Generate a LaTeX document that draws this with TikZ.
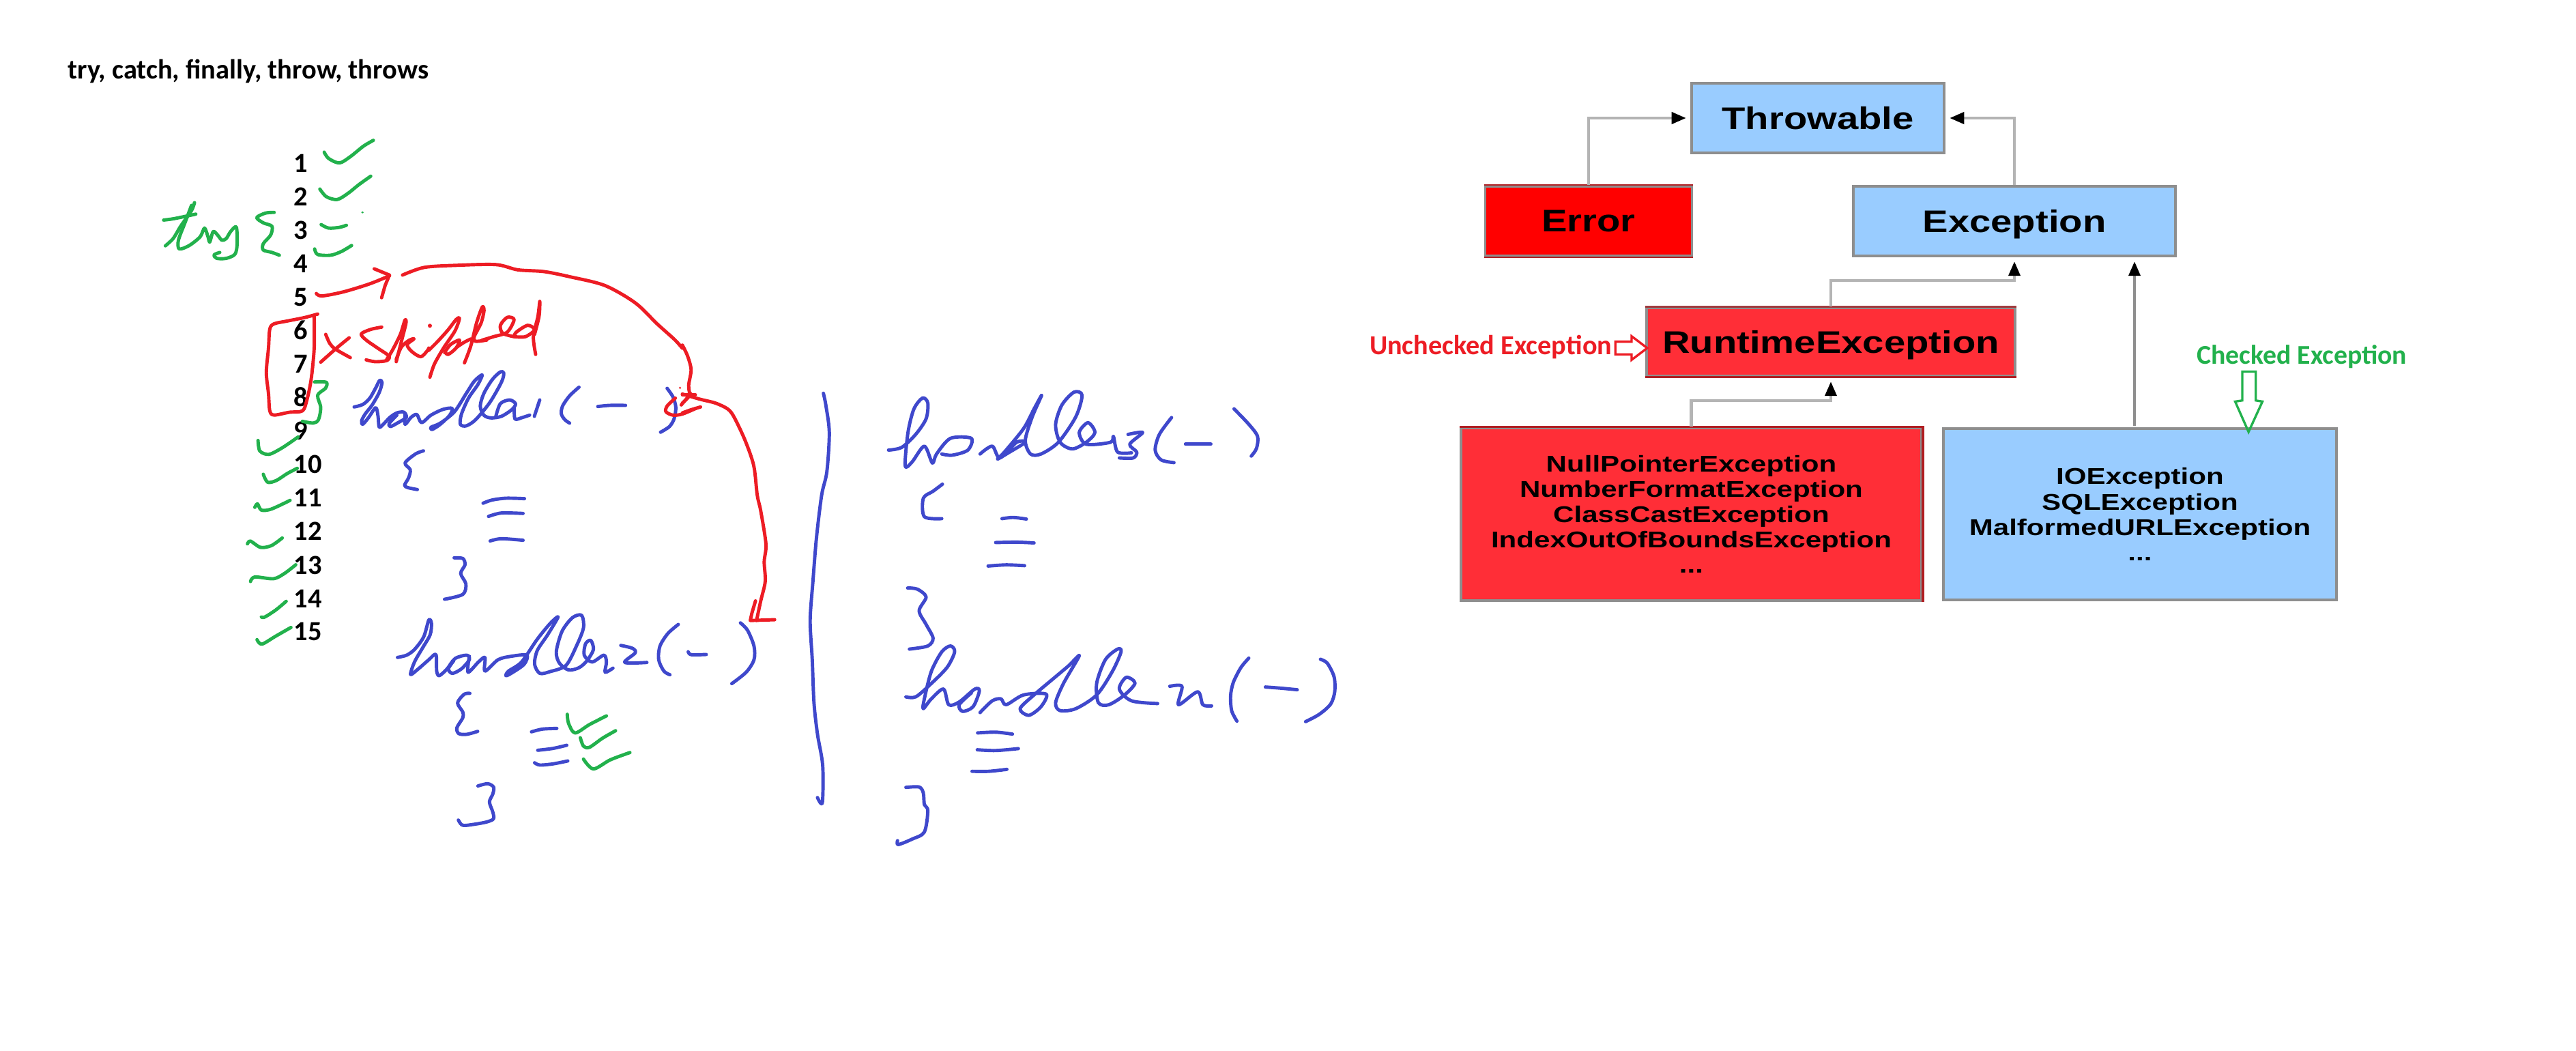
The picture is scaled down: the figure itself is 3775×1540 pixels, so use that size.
\documentclass[tikz,border=0pt]{standalone}
\usepackage{fontspec}
\usetikzlibrary{arrows.meta,calc}
\setmainfont{Carlito}
\newfontfamily\boxfont[FakeStretch=1.23]{Liberation Sans Bold}
\newfontfamily\smallboxfont[FakeStretch=1.26]{Liberation Sans Bold}
\definecolor{inkblue}{HTML}{3F48CC}
\definecolor{inkgreen}{HTML}{22B14C}
\definecolor{inkred}{HTML}{ED1C24}
\definecolor{skyfill}{HTML}{99CCFF}
\definecolor{redfill}{HTML}{FF2E37}
\definecolor{darkred}{HTML}{B01E22}
\definecolor{boxgray}{HTML}{8E8E8E}
\definecolor{linkgray}{HTML}{B4B4B4}
\tikzset{
  ink/.style={line width=1.4pt,line cap=round,line join=round},
  boxnode/.style={draw=boxgray,line width=1pt,inner sep=0pt,align=center,text=black},
  bigtext/.style={font=\boxfont\fontsize{13}{15}\selectfont,text depth=0pt},
  smalltext/.style={font=\smallboxfont\fontsize{9.5}{10.55}\selectfont},
  link/.style={draw=linkgray,line width=1.2pt,-{Triangle[length=6pt,width=4.8pt,fill=black,color=black]},shorten >=1.8pt},
  numnode/.style={anchor=base west,inner sep=0pt,font=\bfseries\fontsize{11.5}{13}\selectfont},
  notered/.style={inner sep=0pt,text=inkred,font=\bfseries\fontsize{11.45}{13}\selectfont},
  notegreen/.style={inner sep=0pt,text=inkgreen,font=\bfseries\fontsize{11.3}{13}\selectfont},
  zoomI/.style={shift={(0,0)},xscale=1/1.568,yscale=1/1.96},
  zoomII/.style={shift={(200,700)},xscale=1/1.568,yscale=1/1.96},
  zoomIII/.style={shift={(1000,450)},xscale=1/1.96,yscale=1/1.742},
  zoomIV/.style={shift={(1650,50)},xscale=1/1.3067,yscale=1/2.24},
  zoomV/.style={shift={(1700,380)},xscale=1/1.3067,yscale=1/3},
  zoomVI/.style={shift={(2400,80)},xscale=1/1.4255,yscale=1/1.845},
  zoomVIII/.style={shift={(480,500)},xscale=1/2.9037,yscale=1/3},
  zoomIX/.style={shift={(550,880)},xscale=1/2.613,yscale=1/3},
  zoomX/.style={shift={(1720,920)},xscale=1/3,yscale=1/3},
  zoomXI/.style={shift={(460,430)},xscale=1/3,yscale=1/3},
}
\newcommand\stk[2]{\draw[ink,#1] plot[smooth,tension=.5] coordinates {#2};}
\begin{document}
\begin{tikzpicture}[x=0.01cm,y=-0.01cm]
\useasboundingbox (0,0) rectangle (3775,1540);
\fill[white] (0,0) rectangle (3775,1540);

\node[numnode] (title) at (99,116) {try, catch, finally, throw, throws};
\foreach \n in {1,...,15}{
  \node[numnode] (n\n) at (430,{253+49*(\n-1)}) {\n};
}

% green try, checks
\begin{scope}[zoomI]
\stk{inkgreen}{(745,437)(755,455)(780,468)(805,450)(835,420)(858,403)}
\stk{inkgreen}{(735,543)(750,565)(775,573)(800,555)(825,530)(852,506)}
\fill[inkgreen] (833,610) circle[radius=3];
\stk{inkgreen}{(738,645)(755,655)(780,653)(796,647)}
\stk{inkgreen}{(723,715)(730,731)(760,733)(785,722)(808,705)}
\stk{inkgreen}{(447,582)(440,605)(415,650)(398,685)(380,706)}
\stk{inkgreen}{(376,632)(400,628)(450,615)}
\stk{inkgreen}{(440,590)(425,640)(410,690)(412,715)(435,705)(460,680)(470,655)(478,680)(482,695)(490,665)(500,675)(510,690)(520,685)(530,665)(543,652)(545,700)(540,730)(520,742)(498,742)(492,732)(505,725)}
\stk{inkgreen}{(630,610)(610,612)(590,625)(605,640)(625,650)(622,675)(605,700)(605,718)(625,725)(642,733)}
\stk{inkgreen}{(723,1097)(750,1098)(748,1115)(730,1135)(737,1170)(732,1205)(720,1215)(695,1210)}
\stk{inkgreen}{(593,1265)(597,1295)(618,1305)(650,1285)(685,1255)}
\stk{inkgreen}{(605,1362)(615,1385)(635,1380)(660,1360)(683,1345)}
% red
\stk{inkred}{(727,843)(740,850)(790,838)(850,815)(895,792)}
\draw[ink,inkred] (860,772) -- (895,790) -- (885,820) -- (877,855);
\stk{inkred}{(925,790)(975,768)(1050,762)(1140,760)(1190,775)(1250,780)(1310,795)(1390,820)(1460,870)(1510,930)(1550,975)(1568,1000)}
\stk{inkred}{(730,902)(700,912)(660,922)(630,930)(620,945)(617,1000)(612,1070)(617,1130)(620,1180)(630,1192)(665,1184)(695,1180)(705,1150)(715,1090)(722,1000)(722,910)}
\end{scope}

% crossed-out word
\begin{scope}[zoomXI]
\stk{inkred}{(52,180)(70,220)(95,245)(160,282)}
\stk{inkred}{(155,195)(100,240)(30,302)}
\stk{inkred}{(298,148)(250,158)(208,178)(230,205)(280,240)(330,275)(320,295)(270,300)(230,292)}
\stk{inkred}{(320,290)(345,250)(380,180)(400,118)(405,130)(385,210)(362,300)}
\stk{inkred}{(362,290)(385,235)(420,205)(440,200)(410,225)(430,255)(470,278)(500,250)(505,240)}
\fill[inkred] (510,142) circle[radius=9];
\stk{inkred}{(505,250)(545,210)(590,160)(625,115)(640,110)(620,165)(570,240)(530,310)(510,368)}
\stk{inkred}{(575,260)(600,225)(640,205)(625,240)(590,268)(575,255)}
\stk{inkred}{(630,235)(660,215)(690,200)}
\stk{inkred}{(662,305)(690,230)(715,130)(740,60)(748,75)(735,130)(705,190)(710,210)(760,205)}
\stk{inkred}{(740,205)(790,190)(850,170)(880,115)(850,105)(820,140)(830,175)(880,190)}
\stk{inkred}{(880,190)(930,190)(970,160)(940,140)(890,170)(880,190)}
\stk{inkred}{(970,180)(990,100)(993,35)(985,100)(965,190)(975,268)}
\end{scope}

% handler 1
\begin{scope}[zoomVIII]
\stk{inkblue}{(113,289)(150,278)(180,250)(205,205)(222,172)(232,182)(220,225)(190,280)(160,320)(145,350)(150,365)(175,335)(205,292)(215,330)(220,378)(240,362)(265,335)(295,315)(325,312)(335,335)(300,358)(268,375)(262,362)(295,325)}
\stk{inkblue}{(330,318)(330,365)(355,335)(380,322)(400,358)(440,325)(490,300)(530,295)(520,325)(480,365)(445,388)(440,378)(480,360)(540,310)(590,230)(625,175)(658,148)(640,190)(600,250)(570,320)(565,365)(590,372)(630,345)(690,270)(740,180)(750,140)(735,135)(700,170)(665,230)(650,285)(665,325)(695,337)(740,330)(785,300)(800,275)(775,258)(735,275)(715,335)}
\stk{inkblue}{(795,295)(798,342)(830,335)(860,325)}
\stk{inkblue}{(903,258)(880,330)}
\stk{inkblue}{(1070,202)(1030,240)(1000,285)(995,320)(1010,345)(1030,360)}
\stk{inkblue}{(1150,287)(1200,282)(1268,282)}
\stk{inkblue}{(1445,207)(1470,245)(1482,290)(1475,340)(1455,375)(1417,400)}
\stk{inkblue}{(408,482)(375,495)(330,535)(352,565)(345,600)(328,632)(340,643)(382,652)}
\stk{inkblue}{(662,712)(700,698)(760,690)(838,692)}
\stk{inkblue}{(685,770)(740,755)(832,757)}
\stk{inkblue}{(692,878)(740,868)(832,875)}
\stk{inkred}{(1480,250)(1445,285)(1440,310)(1470,325)(1510,320)(1568,295)}
\stk{inkred}{(1510,235)(1565,235)}
\stk{inkred}{(1545,230)(1530,250)(1505,280)}
\fill[inkred] (1500,205) circle[radius=5];
\end{scope}

\begin{scope}[zoomII]
\stk{inkblue}{(730,230)(750,232)(755,250)(745,275)(757,305)(750,335)(708,349)}
\stk{inkgreen}{(272,85)(278,75)(287,93)(310,90)(353,65)}
\stk{inkgreen}{(255,190)(262,182)(285,200)(310,195)(335,173)}
\stk{inkgreen}{(262,298)(272,285)(315,290)(340,275)(366,250)}
\stk{inkgreen}{(287,400)(295,400)(320,380)(344,355)}
\stk{inkgreen}{(277,465)(288,478)(320,455)(355,430)}
\end{scope}

% handler 2
\begin{scope}[zoomIX]
\stk{inkblue}{(85,250)(120,240)(150,215)(185,160)(205,85)(215,100)(210,150)(180,210)(150,270)(135,325)(165,300)(205,260)(232,237)(235,310)(245,330)(275,300)(305,255)(350,240)(360,260)(330,300)(295,320)(280,300)(300,265)}
\stk{inkblue}{(360,245)(355,315)(395,270)(420,250)(420,310)(470,260)(520,245)(580,240)(570,280)(520,320)(500,330)(510,310)(560,270)(620,170)(670,100)(700,72)(660,150)(620,220)(610,280)(630,320)(670,312)(730,285)(770,200)(797,120)(790,65)(755,75)(715,135)(693,225)(705,275)(740,305)(780,295)(810,265)(835,215)(825,175)(805,190)(800,240)(830,270)(875,240)(885,270)(880,315)(910,297)}
\stk{inkblue}{(940,197)(985,210)(995,230)(955,272)(1040,272)}
\stk{inkblue}{(1160,105)(1120,145)(1090,200)(1085,260)(1105,310)(1128,326)}
\stk{inkblue}{(1198,225)(1210,238)(1267,237)}
\stk{inkblue}{(1398,98)(1425,130)(1450,200)(1450,260)(1420,315)(1365,365)}
\stk{inkblue}{(362,408)(340,412)(315,450)(335,490)(335,515)(312,560)(320,585)(350,588)(392,575)}
\stk{inkblue}{(598,577)(640,565)(695,562)}
\stk{inkblue}{(622,658)(680,650)(733,636)}
\stk{inkblue}{(610,713)(630,723)(680,718)(737,705)}
\stk{inkgreen}{(735,500)(740,540)(765,582)(820,545)(885,507)}
\stk{inkgreen}{(785,603)(797,640)(820,645)(870,605)(920,572)}
\stk{inkgreen}{(797,697)(835,740)(900,700)(975,668)}
\stk{inkblue}{(393,815)(430,805)(453,820)(450,850)(437,885)(450,930)(452,960)(420,975)(350,988)(330,985)(318,965)}
\end{scope}

% divider, handler 3, handler n
\begin{scope}[zoomIII]
\stk{inkred}{(0,97)(15,125)(25,160)(18,200)(22,225)}
\stk{inkred}{(0,222)(50,235)(95,245)(130,260)(148,280)(180,340)(205,405)(215,480)(225,520)(240,605)(235,650)(238,700)(225,750)(213,800)}
\draw[ink,inkred] (210,750) -- (200,780) -- (195,800) -- (265,798);
\stk{inkred}{(0,270)(25,262)(52,255)}
\stk{inkred}{(0,245)(12,235)(22,225)}
\stk{inkblue}{(405,220)(412,250)(422,320)(415,420)(400,480)(385,590)(375,700)(367,800)(373,900)(378,1010)(388,1090)(403,1170)(402,1265)(388,1252)}
\stk{inkblue}{(592,365)(630,358)(670,325)(700,285)(705,245)(690,232)(665,260)(648,320)(640,405)(660,395)(695,355)(718,398)(730,375)(770,335)(830,335)(820,365)(775,378)(745,375)}
\stk{inkblue}{(855,375)(890,355)(912,385)(960,345)(985,345)(940,370)(905,388)(925,370)(980,310)(1010,260)(1032,225)(1005,280)(985,340)(1000,375)(1030,375)(1080,345)(1130,280)(1148,225)(1125,217)(1090,250)(1072,300)(1085,345)(1120,362)(1160,345)(1185,320)(1165,295)(1140,320)(1160,350)(1230,345)(1238,330)(1250,370)(1290,372)}
\stk{inkblue}{(1280,325)(1322,320)(1285,350)(1305,370)(1295,385)(1255,385)}
\stk{inkblue}{(1405,282)(1370,325)(1358,365)(1375,390)(1412,397)}
\stk{inkblue}{(1445,350)(1518,350)}
\stk{inkblue}{(747,452)(720,470)(692,488)(695,535)(745,540)}
\stk{inkblue}{(918,540)(950,537)(988,541)}
\stk{inkblue}{(900,601)(960,600)(1010,602)}
\stk{inkblue}{(878,661)(930,658)(983,660)}
\stk{inkblue}{(647,717)(675,720)(700,740)(680,775)(700,810)(720,845)(705,865)(652,873)}
\stk{inkblue}{(642,995)(670,995)(710,965)(760,920)(782,880)(770,865)(745,880)(715,930)(695,1000)(692,1025)(715,1000)(750,975)(765,1015)(795,1008)(840,975)(853,980)(835,1020)(805,1032)(795,1015)(830,985)}
\stk{inkblue}{(855,1035)(890,1005)(915,1000)(930,1015)(980,990)(1045,988)(1030,1020)(995,1042)(970,1025)(1010,990)(1070,945)(1110,915)(1140,890)(1095,960)(1072,1010)(1085,1030)(1130,1025)(1190,990)(1235,930)(1260,880)(1250,873)(1215,900)(1190,960)(1195,1010)(1225,1015)(1270,990)(1300,960)(1275,945)(1255,975)(1290,1005)(1365,1012)}
\stk{inkblue}{(1400,968)(1435,968)(1425,1015)(1480,982)(1495,1015)(1520,1018)}
\stk{inkblue}{(848,1087)(900,1085)(948,1090)}
\stk{inkblue}{(847,1130)(900,1132)(965,1127)}
\stk{inkblue}{(832,1185)(880,1185)(932,1180)}
\stk{inkblue}{(642,1226)(680,1225)(692,1240)(695,1270)(705,1285)(695,1340)(660,1358)(620,1372)(618,1362)}
\end{scope}
\begin{scope}[zoomIV]
\stk{inkblue}{(207,1230)(235,1280)(252,1320)(250,1360)(240,1385)}
\end{scope}
\begin{scope}[zoomX]
\stk{inkblue}{(330,133)(295,175)(262,240)(250,300)(255,365)(278,410)}
\stk{inkblue}{(403,260)(470,265)(543,272)}
\stk{inkblue}{(645,138)(675,155)(705,215)(708,280)(690,335)(640,380)(580,412)}
\end{scope}

% hierarchy
\node[boxnode,bigtext,fill=skyfill,minimum width=3.70cm,minimum height=1.02cm] (thr) at (2664,173) {Throwable};
\node[boxnode,bigtext,fill=red,minimum width=3.03cm,minimum height=1.02cm] (err) at (2328,324) {Error};
\node[boxnode,bigtext,fill=skyfill,minimum width=4.72cm,minimum height=1.02cm] (exc) at (2952,324) {Exception};
\node[boxnode,bigtext,fill=redfill,minimum width=5.40cm,minimum height=1.00cm] (rte) at (2683,501) {RuntimeException};
\node[boxnode,smalltext,fill=redfill,minimum width=6.75cm,minimum height=2.53cm] (rtb) at (2478.5,753.5) {NullPointerException\\NumberFormatException\\ClassCastException\\IndexOutOfBoundsException\\...};
\node[boxnode,smalltext,fill=skyfill,minimum width=5.76cm,minimum height=2.51cm] (chk) at (3136,753.5) {IOException\\SQLException\\MalformedURLException\\...};
\draw[darkred,line width=.9pt] (rtb.south east) -- (rtb.north east) -- (rtb.north west);
\draw[darkred,line width=.9pt] (rte.south west) -- (rte.south east);
\draw[darkred!70!gray,line width=.9pt] (rte.north west) -- (rte.north east);
\draw[darkred,line width=.7pt] (err.north west) -- (err.north east);
\draw[darkred,line width=.7pt] (err.south west) -- (err.south east);

\coordinate (chkout) at (3128,624);
\draw[link] (err.north) |- (thr.west);
\draw[link] (exc.north) |- (thr.east);
\draw[link] (rte.north) -- ++(0,-38) -| (exc.south);
\draw[link] (rtb.north) -- ++(0,-38) -| (rte.south);
\draw[link,draw=boxgray] (chkout) -- (chkout |- exc.south);

\node[notered,anchor=east] (unchk) at (2363,509) {Unchecked Exception};
\node[notegreen,anchor=east] (chkd) at (3528,523) {Checked Exception};
\begin{scope}[zoomV]
\draw[ink,inkred,line width=0.95pt,line cap=butt,line join=miter] (872,362) -- (903,362) -- (903,338) -- (933,390) -- (903,442) -- (903,418) -- (872,418) -- cycle;
\end{scope}
\begin{scope}[zoomVI]
\draw[ink,inkgreen,line width=0.95pt,line cap=butt,line join=miter] (1263,857) -- (1291,857) -- (1291,935) -- (1305,938) -- (1276,1020) -- (1248,938) -- (1263,935) -- cycle;
\end{scope}
\end{tikzpicture}
\end{document}
